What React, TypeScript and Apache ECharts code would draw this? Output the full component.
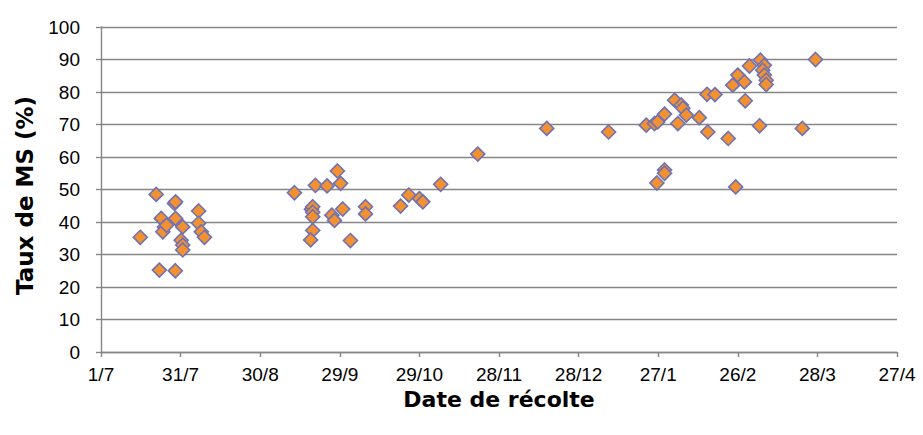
import React, { useEffect, useRef } from "react";
import * as echarts from "echarts";

// Days since 1 July for each harvest
const harvestDays: number[] = [
  14.8, 20.8, 22.7, 23.9, 23.3, 24.7, 22.0, 28.0, 27.7, 28.1, 28.1, 30.8, 30.2, 30.8, 30.8, 36.8, 36.8, 37.8, 39.0,
  72.9, 80.8, 85.2, 90.3, 89.1, 79.3, 79.8, 79.8, 79.8, 87.0, 88.0, 91.1, 99.7, 99.7, 79.8, 79.0, 94.0, 112.9, 116.0, 120.0, 121.3, 128.0,
  142.0, 168.0, 191.3,
  205.5, 208.6, 209.8, 212.4, 216.2, 218.7, 219.3, 220.6, 217.4, 225.5, 228.7, 228.4, 231.4, 236.4, 238.1, 240.0, 242.5, 244.4,
  242.8, 248.5, 250.0, 249.4, 250.0, 250.7, 250.7, 248.2, 239.2, 264.3, 269.3, 212.4, 212.4, 209.5,
];

// Dry matter rate (%)
const dryMatter: number[] = [
  35.3, 48.5, 41.1, 38.5, 37.0, 39.0, 25.2, 25.0, 45.7, 46.2, 41.1, 38.5, 34.4, 32.9, 31.4, 43.4, 39.6, 37.0, 35.3,
  49.0, 51.3, 51.1, 51.9, 55.7, 43.9, 44.7, 43.0, 41.6, 42.1, 40.5, 44.0, 44.7, 42.5, 37.4, 34.5, 34.3, 44.9, 48.3, 47.2, 46.2, 51.6,
  60.9, 68.8, 67.7,
  69.8, 70.3, 70.8, 73.2, 77.5, 76.0, 75.0, 72.9, 70.3, 72.1, 67.7, 79.3, 79.2, 65.7, 82.1, 85.2, 83.1, 88.0,
  77.3, 89.8, 88.2, 86.7, 85.2, 83.6, 82.3, 69.6, 50.8, 68.8, 90.0, 56.0, 55.0, 52.0,
];

const xTickLabels: string[] = ["1/7", "31/7", "30/8", "29/9", "29/10", "28/11", "28/12", "27/1", "26/2", "28/3", "27/4"];

const xTitle = "Date de récolte";
const yTitle = "Taux de MS (%)";

export default function App() {
  const ref = useRef<HTMLDivElement>(null);

  useEffect(() => {
    document.body.style.margin = "0";
    if (!ref.current) return;
    const chart = echarts.init(ref.current, undefined, { renderer: "svg" });
    const points = harvestDays.map((d, i) => [d, dryMatter[i]]);
    const gray = "#868686";
    const labelFont = "Liberation Sans";
    const titleFont = "DejaVu Sans";
    chart.setOption({
      animation: false,
      backgroundColor: "#ffffff",
      grid: { left: 101, right: 26, top: 27, bottom: 83, containLabel: false },
      xAxis: {
        type: "value",
        min: 0,
        max: 300,
        interval: 30,
        name: xTitle,
        nameLocation: "middle",
        nameGap: 32,
        nameTextStyle: { fontFamily: titleFont, fontWeight: "bold", fontSize: 22, color: "#000" },
        axisLine: { show: true, onZero: false, lineStyle: { color: gray, width: 1.4 } },
        axisTick: { show: true, inside: false, length: 5, lineStyle: { color: gray, width: 1.4 } },
        axisLabel: {
          margin: 13,
          fontFamily: labelFont,
          fontSize: 19,
          color: "#000",
          formatter: (v: number) => xTickLabels[Math.round(v / 30)] ?? "",
        },
        splitLine: { show: false },
      },
      yAxis: {
        type: "value",
        min: 0,
        max: 100,
        interval: 10,
        name: yTitle,
        nameLocation: "middle",
        nameGap: 65,
        nameRotate: 90,
        nameTextStyle: {
          fontFamily: titleFont,
          fontWeight: "bold",
          fontSize: 23,
          color: "#000",
          padding: [0, 12, 0, 0],
        },
        axisLine: { show: true, lineStyle: { color: gray, width: 1.4 } },
        axisTick: { show: true, inside: false, length: 5, lineStyle: { color: gray, width: 1.4 } },
        axisLabel: { margin: 21, fontFamily: labelFont, fontSize: 19, color: "#000" },
        splitLine: { show: true, lineStyle: { color: gray, width: 1.4 } },
      },
      series: [
        {
          type: "scatter",
          data: points,
          symbol: "diamond",
          symbolSize: 14,
          itemStyle: { color: "#F39130", borderColor: "#6E72B4", borderWidth: 1.6, opacity: 1 },
        },
      ],
    });
    return () => chart.dispose();
  }, []);

  return <div ref={ref} style={{ width: 923, height: 435 }} />;
}
